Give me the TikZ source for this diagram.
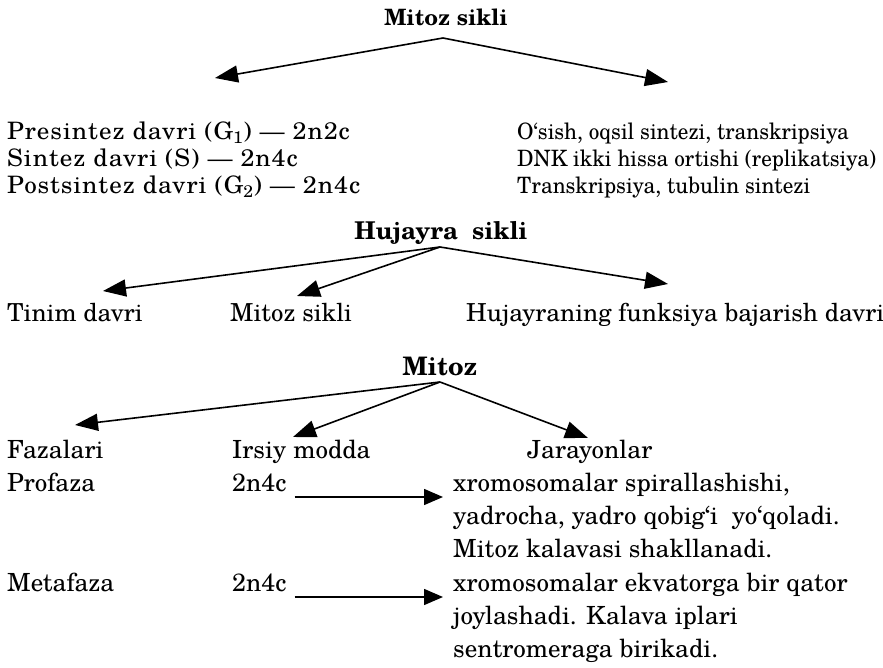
\documentclass[tikz,border=0pt]{standalone}
\usepackage{fontspec}
\setmainfont{TeX Gyre Schola}
\usetikzlibrary{arrows.meta,calc}

\tikzset{
  txt/.style={anchor=base west, inner sep=0pt},
  colL/.style={txt, font=\fontsize{24}{27}\selectfont\addfontfeature{FakeStretch=1.045,LetterSpace=4}},
  colR/.style={txt, font=\fontsize{22.5}{27}\selectfont\addfontfeature{FakeStretch=0.94}},
  midtxt/.style={txt, font=\fontsize{24.8}{30}\selectfont},
  lowtxt/.style={txt, font=\fontsize{25}{33}\selectfont},
  ttl/.style={anchor=base, inner sep=0pt, font=\fontsize{22.5}{27}\selectfont\bfseries},
  arr/.style={line width=1.6pt, -{Triangle[length=23pt,width=17pt]}},
  harr/.style={line width=1.5pt, -{Triangle[length=19pt,width=16pt]}, shorten <=8pt, shorten >=10pt}
}

\begin{document}
\begin{tikzpicture}[x=1pt,y=-1pt]
\useasboundingbox (0,0) rectangle (883,668);

% --- Mitoz sikli: phases of interphase ---
\node[ttl] (ms) at (446,26) {Mitoz sikli};
\coordinate (msa) at (443,38);
\node[colL] (g1) at (7,140) {Presintez davri (G\textsubscript{1}) --- 2n2c};
\node[colL] (s)  at (7,167) {Sintez davri (S) --- 2n4c};
\node[colL] (g2) at (7,194) {Postsintez davri (G\textsubscript{2}) --- 2n4c};
\node[colR] (r1) at (517,140) {O‘sish, oqsil sintezi, transkripsiya};
\node[colR] (r2) at (517,167) {DNK ikki hissa ortishi (replikatsiya)};
\node[colR] (r3) at (517,194) {Transkripsiya, tubulin sintezi};
\coordinate (msl) at (215,78);
\coordinate (msr) at (668,82);
\draw[arr] (msa) -- (msl);
\draw[arr] (msa) -- (msr);

% --- Hujayra sikli ---
\node[ttl, font=\fontsize{24.5}{29}\selectfont\bfseries] (hs) at (441,240) {Hujayra\ \ sikli};
\coordinate (hsa) at (440,247);
\node[midtxt] (td) at (7,321) {Tinim davri};
\node[midtxt] (mk) at (230,321) {Mitoz sikli};
\node[midtxt] (hf) at (466,321) {Hujayraning funksiya bajarish davri};
\coordinate (hsl) at (103,291);
\coordinate (hsm) at (297,296);
\coordinate (hsr) at (668,284);
\draw[arr] (hsa) -- (hsl);
\draw[arr] (hsa) -- (hsm);
\draw[arr] (hsa) -- (hsr);

% --- Mitoz ---
\node[ttl, font=\fontsize{25.5}{30}\selectfont\bfseries] (mz) at (440,375) {Mitoz};
\coordinate (mza) at (440,382);
\node[lowtxt] (fz) at (7,458) {Fazalari};
\node[lowtxt] (im) at (232,458) {Irsiy modda};
\node[lowtxt] (jr) at (527,458) {Jarayonlar};
\coordinate (mzl) at (75,425);
\coordinate (mzm) at (293,437);
\coordinate (mzr) at (588,438);
\draw[arr] (mza) -- (mzl);
\draw[arr] (mza) -- (mzm);
\draw[arr] (mza) -- (mzr);

\node[lowtxt] (pf) at (7,491) {Profaza};
\node[lowtxt] (pn) at (232,491) {2n4c};
\node[lowtxt] (p1) at (453,491) {xromosomalar spirallashishi,};
\node[lowtxt] (p2) at (453,524) {yadrocha, yadro qobig‘i\ \ yo‘qoladi.};
\node[lowtxt] (p3) at (453,557) {Mitoz kalavasi shakllanadi.};
\draw[harr] ([yshift=-6pt]pn.base east) -- ([yshift=-6pt]pn.base east -| p1.west);

\node[lowtxt] (mf) at (7,591) {Metafaza};
\node[lowtxt] (mn) at (232,591) {2n4c};
\node[lowtxt] (m1) at (453,591) {xromosomalar ekvatorga bir qator};
\node[lowtxt] (m2) at (453,624) {joylashadi. Kalava iplari};
\node[lowtxt] (m3) at (453,657) {sentromeraga birikadi.};
\draw[harr] ([yshift=-6pt]mn.base east) -- ([yshift=-6pt]mn.base east -| m1.west);
\end{tikzpicture}
\end{document}
